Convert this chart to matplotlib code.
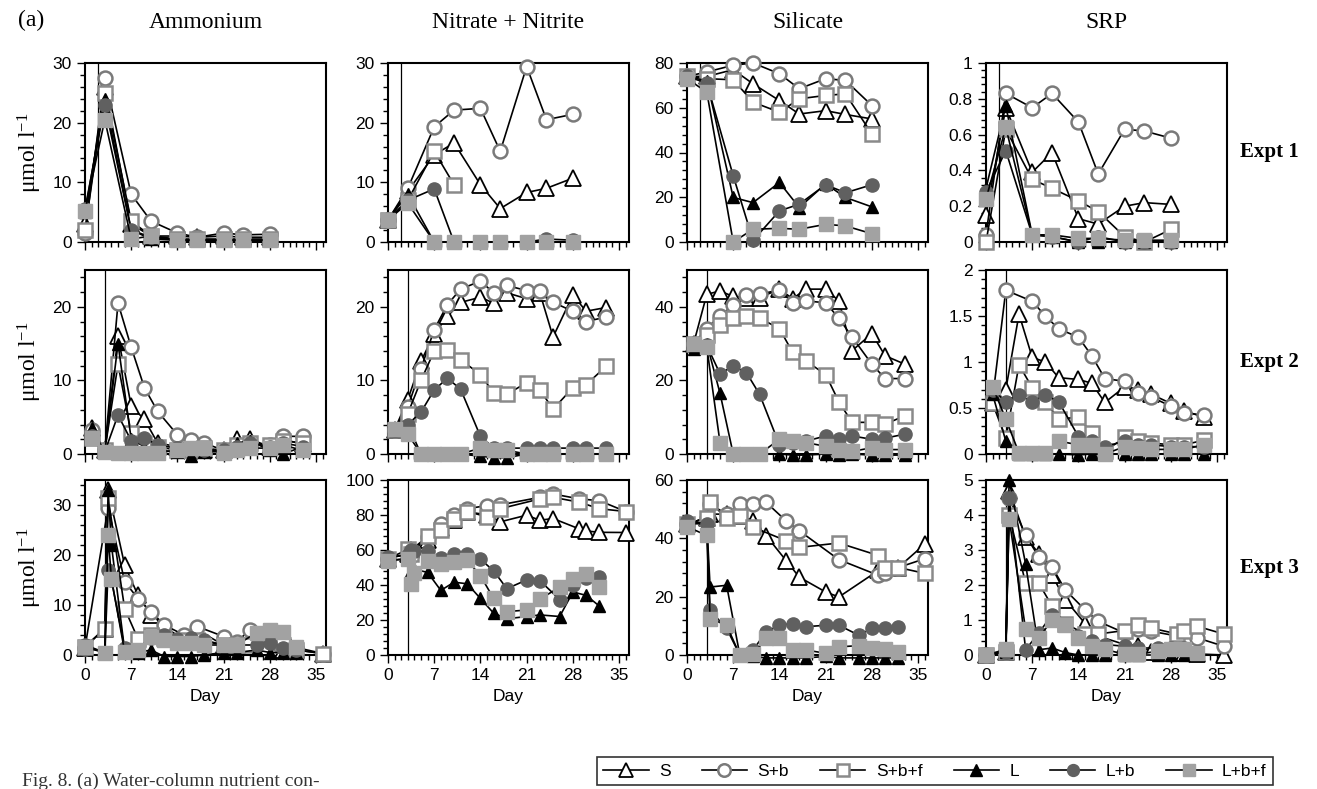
import numpy as np
import matplotlib
matplotlib.use('Agg')
import matplotlib.pyplot as plt
from matplotlib.ticker import MultipleLocator, AutoMinorLocator, FuncFormatter
from matplotlib.lines import Line2D

nan = np.nan

# sampling days
days_e1 = [0, 3, 7, 10, 14, 17, 21, 24, 28]
days_e2 = [1, 3, 5, 7, 9, 11, 14, 16, 18, 21, 23, 25, 28, 30, 33]
days_e3_S = [0, 3, 3.5, 6, 8, 10, 12, 15, 17, 21, 23, 25, 29, 30, 32, 36]
days_e3_L = [0, 3, 3.5, 4, 6, 8, 10, 12, 14, 16, 18, 21, 23, 26, 28, 30, 32]

labels = ['S', 'S+b', 'S+b+f', 'L', 'L+b', 'L+b+f']
nutrients = ['Ammonium', 'Nitrate + Nitrite', 'Silicate', 'SRP']
expts = ['Expt 1', 'Expt 2', 'Expt 3']
add_day = [2, 3, 3]

# ---- Expt 1 ----
nh4_e1_S = [3, 26, 3, 1, 1, 0.8, 1, 0.8, 0.8]
nh4_e1_Sb = [1.5, 27.5, 8, 3.5, 1.5, 0.8, 1.5, 1.2, 1.3]
nh4_e1_Sbf = [2, 25, 3.5, 1, 0.5, 0.5, 0.5, 0.5, 0.5]
nh4_e1_L = [5, 24, 2, 0.5, 0.3, 0.3, 0.3, 0.3, 0.3]
nh4_e1_Lb = [5.5, 23, 2, 0.8, 0.3, 0.3, 0.3, 0.3, 0.3]
nh4_e1_Lbf = [5.2, 20.5, 0.5, 1, 0.3, 0.3, 0.3, 0.3, 0.3]

no3_e1_S = [3.7, 8.5, 14.6, 16.6, 9.6, 5.6, 8.3, 9, 10.7]
no3_e1_Sb = [3.7, 9, 19.3, 22.1, 22.4, 15.2, 29.4, 20.5, 21.4]
no3_e1_Sbf = [3.7, 7, 15.2, 9.6, nan, nan, nan, nan, nan]
no3_e1_L = [3.7, 8, 0, 0, 0, 0, 0, 0, 0]
no3_e1_Lb = [3.7, 7, 8.9, 0, 0, 0, 0, 0.5, 0.3]
no3_e1_Lbf = [3.7, 6.5, 0, 0, 0, 0, 0, 0, 0]

si_e1_S = [74, 74, 77, 70.7, 63.2, 57.2, 58.7, 57, 55]
si_e1_Sb = [74, 76, 79, 80, 75.2, 68.5, 73, 72.2, 61]
si_e1_Sbf = [74, 73, 72.5, 62.5, 58, 64, 65.5, 66.2, 48.3]
si_e1_L = [74, 72, 19.9, 17.6, 26.6, 15.4, 26, 19.9, 15.7]
si_e1_Lb = [74, 71, 29.6, 0.7, 13.9, 16.9, 25.6, 22, 25.6]
si_e1_Lbf = [73, 67, 0, 5.7, 6.1, 5.7, 7.9, 7.2, 3.7]

srp_e1_S = [0.15, 0.75, 0.39, 0.5, 0.13, 0.1, 0.2, 0.22, 0.21]
srp_e1_Sb = [0.04, 0.83, 0.75, 0.83, 0.67, 0.38, 0.63, 0.62, 0.58]
srp_e1_Sbf = [0.0, 0.63, 0.35, 0.3, 0.23, 0.17, 0.03, 0.0, 0.07]
srp_e1_L = [0.3, 0.76, 0.04, 0.03, 0.0, 0.0, 0.0, 0.0, 0.0]
srp_e1_Lb = [0.28, 0.51, 0.04, 0.03, 0.0, 0.03, 0.0, 0.0, 0.0]
srp_e1_Lbf = [0.24, 0.64, 0.04, 0.04, 0.02, 0.02, 0.01, 0.01, 0.01]

# ---- Expt 2 ----
nh4_e2_S = [3.5, 0.5, 16, 6.5, 4.7, 1.5, 1, 0.8, 0.6, 0.5, 2, 2, 1, 2, 1.3]
nh4_e2_Sb = [3.3, 0.5, 20.5, 14.5, 9, 5.8, 2.6, 1.9, 1.5, 0.5, 1.2, 1.5, 1.2, 2.4, 2.4]
nh4_e2_Sbf = [2.2, 0.5, 12.2, 2.8, 1.5, 1, 0.5, 0.5, 0.8, 0.5, 1.2, 1.5, 1.2, 1.8, 1.5]
nh4_e2_L = [3.5, 0.3, 15, 2, 1, 0.5, 0.3, -0.3, 0.3, 0.3, 1.5, 1.8, 0.5, 0, 1]
nh4_e2_Lb = [2.5, 0.3, 5.3, 1.8, 2.2, 1.2, 0.8, 0.8, 0.5, 0.5, 1, 1.5, 1, 1.5, 1]
nh4_e2_Lbf = [2.2, 0.3, 0.2, 0.2, 0.2, 0.2, 0.5, 0.8, 0.8, 0.2, 0.5, 0.8, 0.8, 1.2, 0.5]

no3_e2_S = [3.3, 7.4, 12.6, 16.3, 18.7, 20.6, 21.3, 20.5, 21.9, 21.1, 21.9, 15.9, 21.6, 19.4, 19.9]
no3_e2_Sb = [3.3, 6.4, 11.6, 16.9, 20.3, 22.4, 23.5, 21.9, 22.9, 22.2, 22.1, 20.6, 19.4, 18.0, 18.6]
no3_e2_Sbf = [3.3, 5.5, 10, 14, 14.1, 12.8, 10.8, 8.3, 8.1, 9.7, 8.7, 6.1, 9, 9.4, 11.9]
no3_e2_L = [3.3, 4, 0, 0, 0, 0, -0.3, -0.5, -0.5, 0, 0, 0, 0, 0, 0]
no3_e2_Lb = [3.3, 4, 5.7, 8.7, 10.3, 8.8, 2.4, 0.8, 0.8, 0.8, 0.8, 0.8, 0.8, 0.8, 0.8]
no3_e2_Lbf = [3.4, 2.7, 0, 0, 0, 0, 0.8, 0.6, 0.5, 0, 0, 0, 0, 0, 0]

si_e2_S = [30, 43.4, 44.3, 42.8, 42.5, 42.5, 44.8, 42.2, 44.8, 44.8, 41.6, 28.1, 32.7, 26.7, 24.4]
si_e2_Sb = [30, 34.1, 37.6, 40.4, 43.1, 43.4, 44.6, 41.1, 41.6, 41.1, 36.9, 31.8, 24.4, 20.5, 20.5]
si_e2_Sbf = [30, 32.3, 35, 36.9, 37.4, 36.9, 34.1, 27.6, 25.3, 21.6, 14.2, 8.6, 8.6, 8.1, 10.4]
si_e2_L = [28.5, 30, 16.5, 0, 0, 0, 0, -0.3, -0.3, 0, -0.3, 0, -0.3, -0.3, -0.3]
si_e2_Lb = [30, 29.5, 21.8, 23.9, 22.1, 16.2, 2.5, 3, 3.5, 4.9, 4, 4.9, 4, 4.3, 5.4]
si_e2_Lbf = [30, 29, 3.1, 0, 0, 0, 4, 3.5, 3.1, 2.1, 1.2, 0.7, 1.7, 1.2, 1.2]

srp_e2_S = [0.55, 0.7, 1.52, 1.05, 1.0, 0.83, 0.81, 0.77, 0.56, 0.73, 0.70, 0.65, 0.55, 0.47, 0.4]
srp_e2_Sb = [0.6, 1.78, nan, 1.66, 1.5, 1.36, 1.27, 1.07, 0.82, 0.79, 0.66, 0.62, 0.52, 0.45, 0.42]
srp_e2_Sbf = [0.55, 0.17, 0.97, 0.72, 0.57, 0.38, 0.4, 0.23, 0.03, 0.18, 0.14, 0.12, 0.1, 0.1, 0.15]
srp_e2_L = [0.65, 0.14, 0.0, 0.0, 0.0, 0.0, -0.01, 0.0, 0.0, 0.0, 0.0, 0.0, 0.0, 0.0, 0.0]
srp_e2_Lb = [0.7, 0.57, 0.64, 0.57, 0.64, 0.57, 0.19, 0.14, 0.08, 0.14, 0.1, 0.1, 0.08, 0.08, 0.08]
srp_e2_Lbf = [0.73, 0.38, 0.01, 0.01, 0.01, 0.14, 0.1, 0.1, 0.0, 0.08, 0.06, 0.05, 0.05, 0.05, 0.1]

# ---- Expt 3 (S series on days_e3_S, L series on days_e3_L) ----
nh4_e3_S = [1.5, 5.3, 33, 18, 12, 8, 5.7, 3, 5, 2, 2, 3, 1.5, 1, 1, 0.3]
nh4_e3_Sb = [1.5, nan, 29.5, 14.7, 11.3, 8.7, 6, 4, 5.7, 3.7, 2.7, 5, 2.5, 2, 1.5, 0.3]
nh4_e3_Sbf = [1.7, 5.3, 31.5, 9.3, 3.3, 4, 3.5, 3, 3, 2, 2, 2, 3, 2, 1, 0.3]
nh4_e3_L = [1.5, 0.5, 33, 22, 1, 0.5, 1, -0.3, -0.3, -0.3, 0, 0.5, 0.5, 1, 0.5, 0.5, 0.5]
nh4_e3_Lb = [2, 0.5, 17, 15, 1.5, 1, 3.5, 4, 3.3, 3.5, 3, 2, 2, 2, 2.5, 1.5, 1]
nh4_e3_Lbf = [1.7, 0.5, 24, 15.3, 0.7, 1, 3.7, 3, 2.5, 2.5, 2, 2, 2, 4.5, 5, 4.7, 1.7]

no3_e3_S = [55, 58, 60, 65.9, 72.8, 77, 81.7, 80.2, 76.1, 79.9, 77, 78, 72, 70.9, 70.1, 70]
no3_e3_Sb = [55, 58, 60, 67.7, 74.6, 80.2, 83.6, 85.4, 85.8, nan, 90.1, 92, 89.2, nan, 88.2, 82]
no3_e3_Sbf = [55, 60.3, 58, 68, 71.5, 78, 82, 79, 83.6, nan, 89.2, 90.1, 87.3, nan, 83.6, 82]
no3_e3_L = [54, 55, 48, 49, 47.2, 36.9, 41.6, 40.7, 32.3, 23.9, 20.7, 22, 22.9, 22, 36, 34.1, 28]
no3_e3_Lb = [56, 57, 60, 59.3, 59.3, 55.6, 57.5, 57.8, 54.7, 48.1, 37.9, 42.9, 42.5, 31.7, 40, 44, 44.4]
no3_e3_Lbf = [54, 55, 40.7, 47, 53.7, 52, 53, 54.1, 45.3, 32.3, 24.8, 25.7, 31.9, 38.8, 43.5, 46.3, 38.8]

si_e3_S = [45, 47, 48.3, 48.3, 47.7, 46, 40.9, 32.4, 26.7, 21.6, 19.9, nan, 29, 30, 30, 38]
si_e3_Sb = [45, 47, 51.7, 48.3, 51.7, 51.7, 52.3, 46, 42.6, nan, 32.7, nan, 27.3, 28, 30, 33]
si_e3_Sbf = [45, 47, 52.3, 47, 47.7, 43.8, nan, 39.2, 36.9, nan, 38.4, nan, 34.1, 30, 30, 28]
si_e3_L = [45, 45, 23.3, nan, 23.9, 0, -0.5, -1, -1, -1, -1, -0.5, -1, -1, -1, -1, -1]
si_e3_Lb = [46, 45, 15.3, nan, 9.1, 0, 1.7, 8, 10.2, 10.8, 9.7, 10.2, 10.2, 6.8, 9.1, 9.3, 9.5]
si_e3_Lbf = [44, 41, 12.5, nan, 10.2, 0, 0.2, 5.7, 5.7, 1.7, 1.7, 0.6, 2.8, 3.2, 2.5, 2, 1]

srp_e3_S = [0, 0.1, 4.7, 3.37, 2.9, 2.28, 1.58, 0.9, 0.54, 0.3, 0.27, 0.1, 0.05, 0.05, 0.03, 0]
srp_e3_Sb = [0, 0.1, 4.5, 3.42, 2.8, 2.52, 1.86, 1.29, 0.96, 0.63, 0.75, 0.68, 0.54, nan, 0.49, 0.25]
srp_e3_Sbf = [0, 0.1, 4.0, 2.05, 2.05, 1.4, 0.9, 0.6, 0.6, 0.7, 0.87, 0.77, 0.6, 0.7, 0.82, 0.6]
srp_e3_L = [0, 0.1, 5.0, nan, 2.6, 0.15, 0.2, 0.07, 0, 0, 0, 0, 0, 0, 0, 0, 0]
srp_e3_Lb = [0, 0.1, 4.5, nan, 0.15, 0.63, 1.15, 0.87, 0.54, 0.4, 0.3, 0.25, 0.2, 0.2, 0.2, 0.2, 0.1]
srp_e3_Lbf = [0, 0.16, 3.9, nan, 0.73, 0.49, 1.0, 0.87, 0.49, 0.25, 0.16, 0.02, 0.02, 0.11, 0.16, 0.16, 0.07]

# y limits and major tick steps per row / column
ylims = [[30, 30, 80, 1], [25, 25, 50, 2], [35, 100, 60, 5]]
ysteps = [[10, 10, 20, 0.2], [10, 10, 20, 0.5], [10, 20, 20, 1]]

panels = [
    [(days_e1, days_e1, [nh4_e1_S, nh4_e1_Sb, nh4_e1_Sbf, nh4_e1_L, nh4_e1_Lb, nh4_e1_Lbf]),
     (days_e1, days_e1, [no3_e1_S, no3_e1_Sb, no3_e1_Sbf, no3_e1_L, no3_e1_Lb, no3_e1_Lbf]),
     (days_e1, days_e1, [si_e1_S, si_e1_Sb, si_e1_Sbf, si_e1_L, si_e1_Lb, si_e1_Lbf]),
     (days_e1, days_e1, [srp_e1_S, srp_e1_Sb, srp_e1_Sbf, srp_e1_L, srp_e1_Lb, srp_e1_Lbf])],
    [(days_e2, days_e2, [nh4_e2_S, nh4_e2_Sb, nh4_e2_Sbf, nh4_e2_L, nh4_e2_Lb, nh4_e2_Lbf]),
     (days_e2, days_e2, [no3_e2_S, no3_e2_Sb, no3_e2_Sbf, no3_e2_L, no3_e2_Lb, no3_e2_Lbf]),
     (days_e2, days_e2, [si_e2_S, si_e2_Sb, si_e2_Sbf, si_e2_L, si_e2_Lb, si_e2_Lbf]),
     (days_e2, days_e2, [srp_e2_S, srp_e2_Sb, srp_e2_Sbf, srp_e2_L, srp_e2_Lb, srp_e2_Lbf])],
    [(days_e3_S, days_e3_L, [nh4_e3_S, nh4_e3_Sb, nh4_e3_Sbf, nh4_e3_L, nh4_e3_Lb, nh4_e3_Lbf]),
     (days_e3_S, days_e3_L, [no3_e3_S, no3_e3_Sb, no3_e3_Sbf, no3_e3_L, no3_e3_Lb, no3_e3_Lbf]),
     (days_e3_S, days_e3_L, [si_e3_S, si_e3_Sb, si_e3_Sbf, si_e3_L, si_e3_Lb, si_e3_Lbf]),
     (days_e3_S, days_e3_L, [srp_e3_S, srp_e3_Sb, srp_e3_Sbf, srp_e3_L, srp_e3_Lb, srp_e3_Lbf])],
]

# marker styles: (marker, size, face, edge, edge width)
styles = [
    ('^', 11, 'white', 'black', 1.3),
    ('o', 10, 'white', '#7a7a7a', 1.8),
    ('s', 9.5, 'white', '#8a8a8a', 1.8),
    ('^', 9, 'black', 'black', 1.0),
    ('o', 9.5, '#606060', '#606060', 1.0),
    ('s', 10, '#a2a2a2', '#a2a2a2', 1.0),
]

plt.rcParams['font.family'] = ['Liberation Sans', 'DejaVu Sans']
plt.rcParams['mathtext.fontset'] = 'custom'
plt.rcParams['mathtext.rm'] = 'Liberation Serif'
plt.rcParams['mathtext.it'] = 'Liberation Serif:italic'

W, H = 1317, 789
fig = plt.figure(figsize=(W / 100, H / 100), dpi=100)

col_x = [85, 388, 687, 986]
col_w = 241
row_y = [(63, 242), (270, 454), (480, 655)]
serif = 'Liberation Serif'

for r in range(3):
    for c in range(4):
        top, bot = row_y[r]
        ax = fig.add_axes([col_x[c] / W, 1 - bot / H, col_w / W, (bot - top) / H])
        dS, dL, series = panels[r][c]
        for i, vals in enumerate(series):
            d = np.array(dS if i < 3 else dL, float)
            v = np.array(vals, float)
            m = ~np.isnan(v)
            mk, ms, fc, ec, mew = styles[i]
            ax.plot(d[m], v[m], color='black', lw=1.2, marker=mk, ms=ms,
                    mfc=fc, mec=ec, mew=mew, clip_on=False, zorder=3 + i)
        ax.axvline(add_day[r], color='black', lw=0.9, zorder=2)
        ax.set_xlim(0, 36.5)
        ax.set_ylim(0, ylims[r][c])
        ax.xaxis.set_major_locator(MultipleLocator(7))
        ax.xaxis.set_minor_locator(MultipleLocator(1))
        ax.yaxis.set_major_locator(MultipleLocator(ysteps[r][c]))
        ax.yaxis.set_minor_locator(AutoMinorLocator(5))
        ax.yaxis.set_major_formatter(FuncFormatter(lambda v, p: '%g' % round(v, 3)))
        ax.tick_params(which='both', direction='out', labelsize=12.5, width=1.0)
        ax.tick_params(which='major', length=6)
        ax.tick_params(which='minor', length=3.5)
        for sp in ax.spines.values():
            sp.set_linewidth(1.5)
        if r < 2:
            ax.set_xticklabels([])
        else:
            ax.set_xlabel('Day', fontsize=12.5, labelpad=4)
        if c == 0:
            ax.set_ylabel(r'$\mathrm{\mu mol\ l^{-1}}$', fontsize=17, labelpad=6)
        if r == 0:
            fig.text((col_x[c] + col_w / 2) / W, 1 - 22 / H, nutrients[c],
                     ha='center', va='center', fontsize=17, family=serif)
        if c == 3:
            fig.text(1240 / W, 1 - (top + bot) / 2 / H, expts[r], ha='left',
                     va='center', fontsize=15, family=serif, weight='bold')

fig.text(18 / W, 1 - 20 / H, '(a)', ha='left', va='center', fontsize=17, family=serif)
fig.text(22 / W, 1 - 781 / H, 'Fig. 8. (a) Water-column nutrient con-', ha='left',
         va='center', fontsize=14, family=serif, color='#333333')

handles = []
for i, lab in enumerate(labels):
    mk, ms, fc, ec, mew = styles[i]
    handles.append(Line2D([], [], color='black', lw=1.2, marker=mk, ms=ms * 0.9,
                          mfc=fc, mec=ec, mew=mew, label=lab))
leg = fig.legend(handles=handles, ncol=6, loc='center', fontsize=12.5,
                 bbox_to_anchor=(935 / W, 1 - 771 / H), frameon=True,
                 fancybox=False, edgecolor='black', handlelength=2.6,
                 columnspacing=1.8, borderpad=0.35, handletextpad=0.6)
leg.get_frame().set_linewidth(1.2)

fig.savefig('out.png', dpi=100)
